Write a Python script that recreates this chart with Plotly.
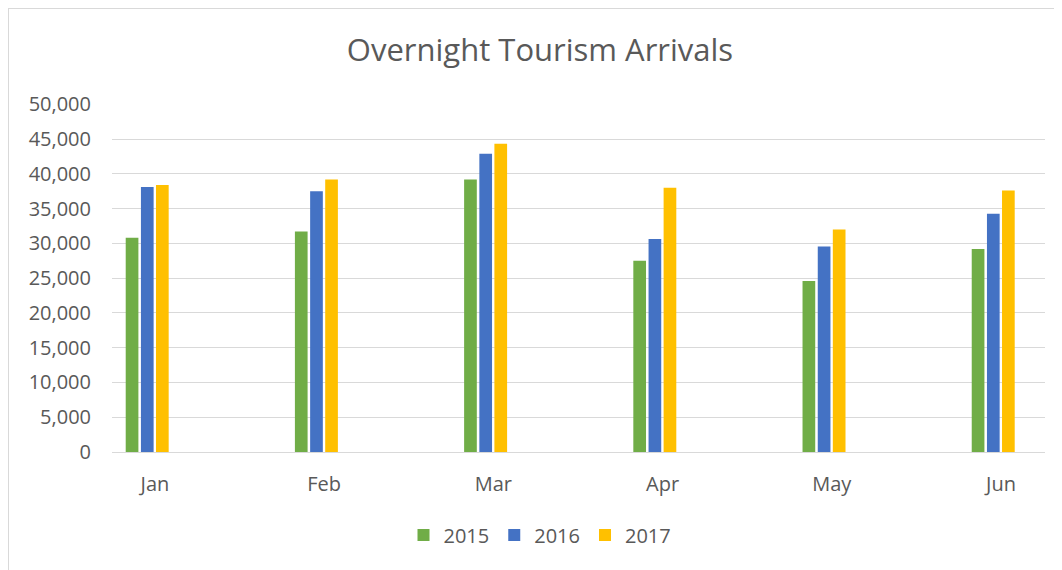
import plotly.graph_objects as go

months = ["Jan", "Feb", "Mar", "Apr", "May", "Jun"]
years = ["2015", "2016", "2017"]
arr_2015 = [30800, 31700, 39200, 27500, 24600, 29200]
arr_2016 = [38100, 37500, 42900, 30650, 29550, 34250]
arr_2017 = [38400, 39200, 44350, 38000, 32000, 37600]
y_ticks = [0, 5000, 10000, 15000, 20000, 25000, 30000, 35000, 40000, 45000, 50000]

colors = ["#70AD47", "#4472C4", "#FFC000"]
offsets = [-0.173, -0.083, 0.006]
bar_w = 0.075
series = [arr_2015, arr_2016, arr_2017]

# page body has an 8px margin; build figure in reference pixel coords minus 8
S = 8
W, H = 1062 - S, 570 - S
L, R = 112 - S, W - (1045 - S)
T, B = 104 - S, H - (452 - S)
pw, ph = W - L - R, H - T - B
font = "Open Sans, Liberation Sans, sans-serif"
txt = "#595959"

fig = go.Figure()
for name, vals, c, off in zip(years, series, colors, offsets):
    fig.add_trace(go.Bar(
        x=months, y=vals, name=name,
        marker=dict(color=c, line=dict(width=0)),
        offset=off, width=bar_w,
    ))

def px(x):
    return (x - S - L) / pw

def py(y):
    return (H - B - (y - S)) / ph

fig.update_layout(
    width=W, height=H,
    margin=dict(l=L, r=R, t=T, b=B, pad=0),
    paper_bgcolor="white", plot_bgcolor="white",
    font=dict(family=font, color=txt, size=20),
    barmode="overlay",
    title=dict(text="Overnight Tourism Arrivals", x=(540 - S) / W, xanchor="center",
               y=1 - (50 - S) / H, yanchor="middle", xref="container", yref="container",
               font=dict(size=31, color=txt, family=font)),
    xaxis=dict(type="category", range=[-0.254, 5.26], showgrid=False, showline=False,
               ticks="", tickfont=dict(size=20, color=txt), ticklabelstandoff=18,
               zeroline=False),
    yaxis=dict(range=[0, 50050], tickvals=y_ticks, tickformat=",d", showgrid=True,
               gridcolor="#d9d9d9", gridwidth=1, zeroline=True, zerolinecolor="#d9d9d9",
               zerolinewidth=1, showline=False, ticks="", ticklabelstandoff=20,
               tickfont=dict(size=20, color=txt)),
    legend=dict(orientation="h", x=px(540), xanchor="center", y=py(535), yanchor="middle",
                font=dict(size=20, color=txt), itemwidth=30, traceorder="normal"),
    shapes=[
        dict(type="line", xref="paper", yref="paper", x0=px(8), x1=px(1062), y0=py(8), y1=py(8),
             line=dict(color="#d9d9d9", width=2)),
        dict(type="line", xref="paper", yref="paper", x0=px(8), x1=px(8), y0=py(8), y1=py(570),
             line=dict(color="#d9d9d9", width=2)),
    ],
)

fig.write_html("out.html")
